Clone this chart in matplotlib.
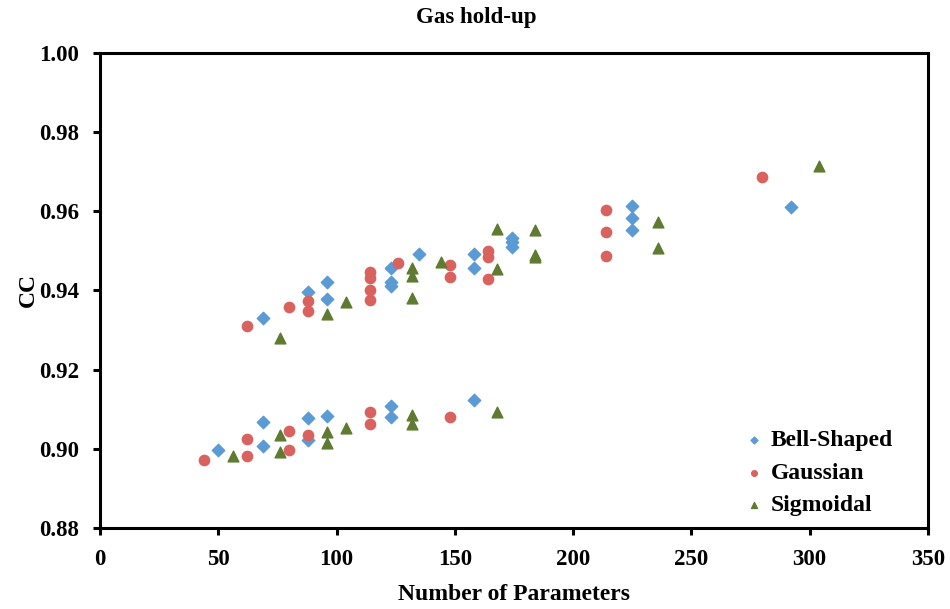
import matplotlib
matplotlib.use("Agg")
import matplotlib.pyplot as plt

# data
bell_x = [69, 88, 96, 96, 123, 123, 123, 135, 158, 158, 174, 174, 174, 225, 225, 225, 292,
          50, 69, 69, 88, 88, 96, 123, 123, 158]
bell_y = [0.9331, 0.9397, 0.9422, 0.9378, 0.9458, 0.9421, 0.9411, 0.9493, 0.9493, 0.9457,
          0.9532, 0.9522, 0.9511, 0.9614, 0.9582, 0.9553, 0.9612,
          0.8996, 0.9067, 0.9007, 0.9079, 0.9022, 0.9083, 0.9108, 0.9080, 0.9123]

gauss_x = [62, 80, 88, 88, 114, 114, 114, 114, 126, 148, 148, 164, 164, 164, 214, 214, 214, 280,
           44, 62, 62, 80, 80, 88, 114, 114, 148]
gauss_y = [0.9310, 0.9358, 0.9373, 0.9348, 0.9446, 0.9431, 0.9402, 0.9377, 0.9469, 0.9464,
           0.9435, 0.9501, 0.9485, 0.9428, 0.9603, 0.9549, 0.9487, 0.9686,
           0.8972, 0.9025, 0.8981, 0.9046, 0.8997, 0.9035, 0.9092, 0.9063, 0.9080]

sig_x = [76, 96, 104, 132, 132, 132, 144, 168, 168, 184, 184, 184, 236, 236, 304,
         56, 76, 76, 96, 96, 104, 132, 132, 168]
sig_y = [0.9281, 0.9340, 0.9370, 0.9458, 0.9437, 0.9382, 0.9471, 0.9555, 0.9454, 0.9553,
         0.9490, 0.9485, 0.9573, 0.9507, 0.9715,
         0.8981, 0.9035, 0.8991, 0.9042, 0.9014, 0.9053, 0.9086, 0.9062, 0.9094]

x_ticks = [0, 50, 100, 150, 200, 250, 300, 350]
y_ticks = [0.88, 0.90, 0.92, 0.94, 0.96, 0.98, 1.00]

plt.rcParams['font.family'] = ['Liberation Serif', 'DejaVu Serif']
plt.rcParams['font.weight'] = 'bold'

fig = plt.figure(figsize=(9.5, 6.09), dpi=100)
ax = fig.add_axes([0.1053, 0.133, 0.8715, 0.780])

ax.scatter(bell_x, bell_y, marker='D', s=40, color='#5B9BD5', label='Bell-Shaped', zorder=3)
ax.scatter(gauss_x, gauss_y, marker='o', s=55, color='#D9625F', label='Gaussian', zorder=3)
ax.scatter(sig_x, sig_y, marker='^', s=60, color='#5F7A31', label='Sigmoidal', zorder=3)

ax.set_xlim(0, 350)
ax.set_ylim(0.88, 1.00)
ax.set_xticks(x_ticks)
ax.set_yticks(y_ticks)
ax.set_yticklabels([f'{v:.2f}' for v in y_ticks])
ax.tick_params(axis='both', direction='out', length=5, width=2.2, labelsize=16.5, pad=10)
for lbl in ax.get_xticklabels() + ax.get_yticklabels():
    lbl.set_fontweight('bold')
for sp in ax.spines.values():
    sp.set_linewidth(2.2)
    sp.set_color('black')

ax.set_xlabel('Number of Parameters', fontsize=17, fontweight='bold', labelpad=10)
ax.set_ylabel('CC', fontsize=17, fontweight='bold', labelpad=0)
fig.text(0.501, 0.971, 'Gas hold-up', ha='center', va='center', fontsize=16.5, fontweight='bold')

leg = ax.legend(loc='lower right', frameon=False, fontsize=17, markerscale=0.55,
                handlelength=0.8, handletextpad=0.3, labelspacing=0.46,
                borderpad=0, borderaxespad=0, bbox_to_anchor=(0.958, 0.025))
for t in leg.get_texts():
    t.set_fontweight('bold')

fig.savefig('out.png', dpi=100)
